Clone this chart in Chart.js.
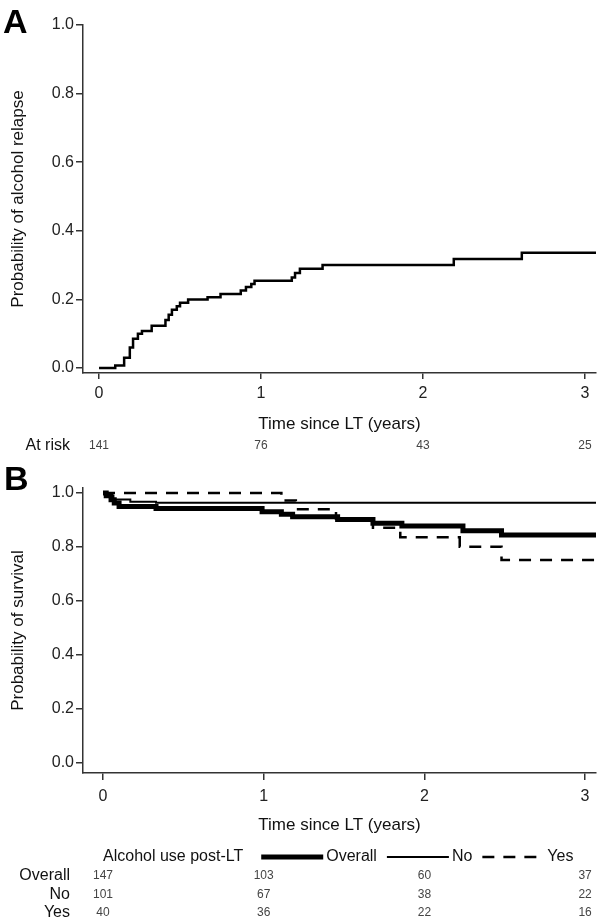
<!DOCTYPE html>
<html>
<head>
<meta charset="utf-8">
<script src="https://cdn.jsdelivr.net/npm/chart.js@4.4.1/dist/chart.umd.min.js"></script>
<style>
  html, body { margin: 0; padding: 0; background: #fff; }
  .panel { position: relative; width: 600px; }
  #panelA { height: 458px; }
  #panelB { height: 465px; }
</style>
</head>
<body>
<div class="panel" id="panelA"><canvas id="chartA"></canvas></div>
<div class="panel" id="panelB"><canvas id="chartB"></canvas></div>
<script>
// Shared axis ticks
const timeTicks = [0, 1, 2, 3];
const probTicks = [0, 0.2, 0.4, 0.6, 0.8, 1.0];

// Panel A - cumulative probability of alcohol relapse
const relapseTime = [0, 0.10, 0.155, 0.19, 0.21, 0.24, 0.265, 0.325, 0.41, 0.43, 0.45, 0.48, 0.50, 0.55, 0.67, 0.75, 0.875, 0.907, 0.94, 0.96, 1.19, 1.21, 1.24, 1.38, 2.19, 2.61, 3.07];
const relapseProb = [0, 0.007, 0.03, 0.06, 0.085, 0.10, 0.108, 0.123, 0.14, 0.155, 0.17, 0.18, 0.19, 0.20, 0.206, 0.216, 0.226, 0.236, 0.245, 0.254, 0.264, 0.277, 0.289, 0.30, 0.318, 0.336, 0.336];
const riskA = [141, 76, 43, 25];

// Panel B - survival by alcohol use post-LT
const overallTime = [0, 0.02, 0.05, 0.07, 0.10, 0.33, 0.99, 1.11, 1.18, 1.46, 1.68, 1.86, 2.24, 2.48, 3.07];
const overallSurv = [1.0, 0.99, 0.975, 0.963, 0.95, 0.943, 0.931, 0.921, 0.912, 0.902, 0.888, 0.878, 0.86, 0.844, 0.844];
const noTime = [0, 0.03, 0.065, 0.17, 0.33, 3.07];
const noSurv = [1.0, 0.99, 0.976, 0.968, 0.964, 0.964];
const yesTime = [0, 1.11, 1.20, 1.45, 1.68, 1.85, 2.22, 2.48, 3.07];
const yesSurv = [1.0, 0.972, 0.94, 0.905, 0.871, 0.836, 0.801, 0.752, 0.752];
const riskOverall = [147, 103, 60, 37];
const riskNo = [101, 67, 38, 22];
const riskYes = [40, 36, 22, 16];

const FONT = "'Liberation Sans', Arial, sans-serif";
const AXIS = '#333';
Chart.defaults.font.family = FONT;
Chart.defaults.color = '#222';

function toPoints(xs, ys) {
    return xs.map((x, i) => ({ x: x, y: ys[i] }));
}

function kmScales(cfg) {
    return {
        x: {
            type: 'linear',
            min: cfg.xMin,
            max: cfg.xMax,
            afterBuildTicks: s => { s.ticks = timeTicks.map(v => ({ value: v })); },
            afterFit: s => { s.height = cfg.xHeight; },
            grid: { display: true, drawOnChartArea: false, drawTicks: true, tickLength: cfg.tickLen, color: AXIS, lineWidth: 1.5 },
            border: { display: true, color: AXIS, width: 1.5 },
            ticks: { padding: cfg.tickPad, maxRotation: 0, font: { size: 16 }, callback: v => String(v) },
            title: { display: true, text: 'Time since LT (years)', font: { size: 17 }, color: '#111', padding: { top: 0, bottom: cfg.xTitlePad } }
        },
        y: {
            type: 'linear',
            min: cfg.yMin,
            max: cfg.yMax,
            afterBuildTicks: s => { s.ticks = probTicks.map(v => ({ value: v })); },
            afterFit: s => { s.width = 83; },
            grid: { display: true, drawOnChartArea: false, drawTicks: true, tickLength: 7, color: AXIS, lineWidth: 1.5 },
            border: { display: true, color: AXIS, width: 1.5 },
            ticks: { padding: 2, font: { size: 16 }, callback: v => v.toFixed(1) },
            title: { display: true, text: cfg.yTitle, font: { size: 17 }, color: '#111', padding: { top: 8, bottom: 0 } }
        }
    };
}

// Draws the panel letter and the numbers-at-risk rows under the x axis
const riskTablePlugin = {
    id: 'riskTable',
    afterDraw(chart, args, opts) {
        const ctx = chart.ctx;
        const xs = chart.scales.x;
        ctx.save();
        ctx.fillStyle = '#000';
        ctx.textAlign = 'left';
        ctx.textBaseline = 'alphabetic';
        ctx.font = 'bold 34px ' + FONT;
        ctx.fillText(opts.letter, opts.letterX, opts.letterY);

        ctx.textBaseline = 'middle';
        opts.rows.forEach(row => {
            ctx.font = '16px ' + FONT;
            ctx.fillStyle = '#111';
            ctx.textAlign = 'right';
            ctx.fillText(row.label, 70, row.y);
            ctx.font = opts.numSize + 'px ' + FONT;
            ctx.fillStyle = '#444';
            ctx.textAlign = 'center';
            timeTicks.forEach((t, i) => ctx.fillText(String(row.values[i]), xs.getPixelForValue(t), row.y));
        });
        ctx.restore();
    }
};

// Inline legend: title followed by line samples taken from the datasets
const inlineLegendPlugin = {
    id: 'inlineLegend',
    afterDraw(chart, args, opts) {
        if (!opts.display) return;
        const ctx = chart.ctx;
        const y = opts.y;
        let x = opts.x;
        ctx.save();
        ctx.font = '16px ' + FONT;
        ctx.fillStyle = '#111';
        ctx.textBaseline = 'middle';
        ctx.textAlign = 'left';
        ctx.fillText(opts.title, x, y);
        x += ctx.measureText(opts.title).width + 18;
        chart.data.datasets.forEach((ds, i) => {
            const len = ds.borderDash ? 55 : 62;
            ctx.beginPath();
            ctx.lineWidth = ds.borderWidth;
            ctx.strokeStyle = ds.borderColor;
            ctx.setLineDash(ds.borderDash || []);
            ctx.moveTo(x, y);
            ctx.lineTo(x + len, y);
            ctx.stroke();
            ctx.setLineDash([]);
            x += len + (ds.borderDash ? 10 : 3);
            ctx.fillText(ds.label, x, y);
            x += ctx.measureText(ds.label).width + 10;
        });
        ctx.restore();
    }
};

new Chart(document.getElementById('chartA'), {
    type: 'line',
    data: {
        datasets: [{
            label: 'Relapse',
            data: toPoints(relapseTime, relapseProb),
            stepped: 'before',
            borderColor: '#000',
            borderWidth: 2.5,
            pointRadius: 0,
            fill: false
        }]
    },
    options: {
        responsive: true,
        maintainAspectRatio: false,
        animation: false,
        layout: { padding: { top: 25, right: 4, left: 0, bottom: 0 } },
        scales: kmScales({
            xMin: -0.099, xMax: 3.068, yMin: -0.0146, yMax: 1.0,
            xHeight: 85, tickLen: 6, tickPad: 5, xTitlePad: 23,
            yTitle: 'Probability of alcohol relapse'
        }),
        plugins: {
            legend: { display: false },
            tooltip: { enabled: false },
            riskTable: {
                letter: 'A', letterX: 3, letterY: 33, numSize: 12,
                rows: [{ label: 'At risk', values: riskA, y: 446 }]
            },
            inlineLegend: { display: false }
        }
    },
    plugins: [riskTablePlugin, inlineLegendPlugin]
});

new Chart(document.getElementById('chartB'), {
    type: 'line',
    data: {
        datasets: [
            { label: 'Overall', data: toPoints(overallTime, overallSurv), stepped: 'before', borderColor: '#000', borderWidth: 5, pointRadius: 0, fill: false },
            { label: 'No', data: toPoints(noTime, noSurv), stepped: 'before', borderColor: '#000', borderWidth: 2, pointRadius: 0, fill: false },
            { label: 'Yes', data: toPoints(yesTime, yesSurv), stepped: 'before', borderColor: '#000', borderWidth: 2.5, borderDash: [12, 9], pointRadius: 0, fill: false }
        ]
    },
    options: {
        responsive: true,
        maintainAspectRatio: false,
        animation: false,
        layout: { padding: { top: 30, right: 4, left: 0, bottom: 0 } },
        scales: kmScales({
            xMin: -0.1245, xMax: 3.068, yMin: -0.037, yMax: 1.0185,
            xHeight: 150, tickLen: 7, tickPad: 7, xTitlePad: 87,
            yTitle: 'Probability of survival'
        }),
        plugins: {
            legend: { display: false },
            tooltip: { enabled: false },
            riskTable: {
                letter: 'B', letterX: 4, letterY: 32, numSize: 12,
                rows: [
                    { label: 'Overall', values: riskOverall, y: 418 },
                    { label: 'No', values: riskNo, y: 437 },
                    { label: 'Yes', values: riskYes, y: 455 }
                ]
            },
            inlineLegend: { display: true, title: 'Alcohol use post-LT', x: 103, y: 399 }
        }
    },
    plugins: [riskTablePlugin, inlineLegendPlugin]
});
</script>
</body>
</html>
